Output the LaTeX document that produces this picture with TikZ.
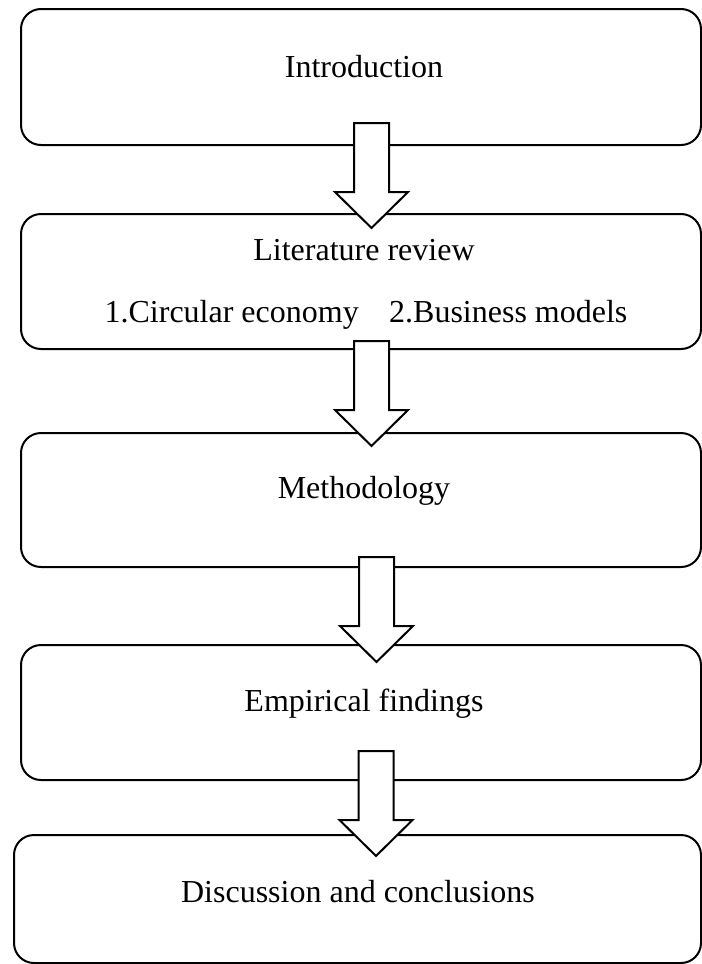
\documentclass[tikz,border=0pt]{standalone}
\usepackage{fontspec}
\setmainfont{Liberation Serif}
\usetikzlibrary{calc}
\begin{document}
\begin{tikzpicture}[x=0.75pt,y=-0.75pt,
  box/.style={draw=black, line width=1.5pt, rounded corners=15pt, fill=white, inner sep=0pt, anchor=north west},
  arr/.style={draw=black, line width=1.5pt, fill=white, line join=miter},
  lbl/.style={anchor=base, inner sep=0pt, font=\fontsize{24}{28}\selectfont},
  downarrow/.pic={\path[arr] (-17.5,0) -- (17.5,0) -- (17.5,69) -- (36.5,69) -- (0,105) -- (-36.5,69) -- (-17.5,69) -- cycle;}]
\useasboundingbox (0,0) rectangle (701,964);
\fill[white] (0,0) rectangle (701,964);
% boxes
\node[box, minimum width=510pt, minimum height=102pt] (b1) at (20,8) {};
\node[box, minimum width=510pt, minimum height=101.25pt] (b2) at (20,213) {};
\node[box, minimum width=510pt, minimum height=100.5pt] (b3) at (20,432) {};
\node[box, minimum width=510pt, minimum height=101.25pt] (b4) at (20,644) {};
\node[box, minimum width=515.25pt, minimum height=96pt] (b5) at (13,834) {};
% arrows (block arrows from box to box)
\coordinate (a1) at ($(b1.south)+(10.5,-23)$);
\coordinate (a2) at ($(b2.south)+(10.5,-9)$);
\coordinate (a3) at ($(b3.south)+(15.5,-11)$);
\coordinate (a4) at ($(b4.south)+(15,-30)$);
\pic at (a1) {downarrow};
\pic at (a2) {downarrow};
\pic at (a3) {downarrow};
\pic at (a4) {downarrow};
% labels
\node[lbl] (t1) at (364,77) {Introduction};
\node[lbl] (t2a) at (364,260) {Literature review};
\node[lbl] (t2b) at (366,322) {1.Circular economy\hspace{0.95em}2.Business models};
\node[lbl] (t3) at (364,498) {Methodology};
\node[lbl] (t4) at (364,711) {Empirical findings};
\node[lbl] (t5) at (358,902) {Discussion and conclusions};
\end{tikzpicture}
\end{document}
